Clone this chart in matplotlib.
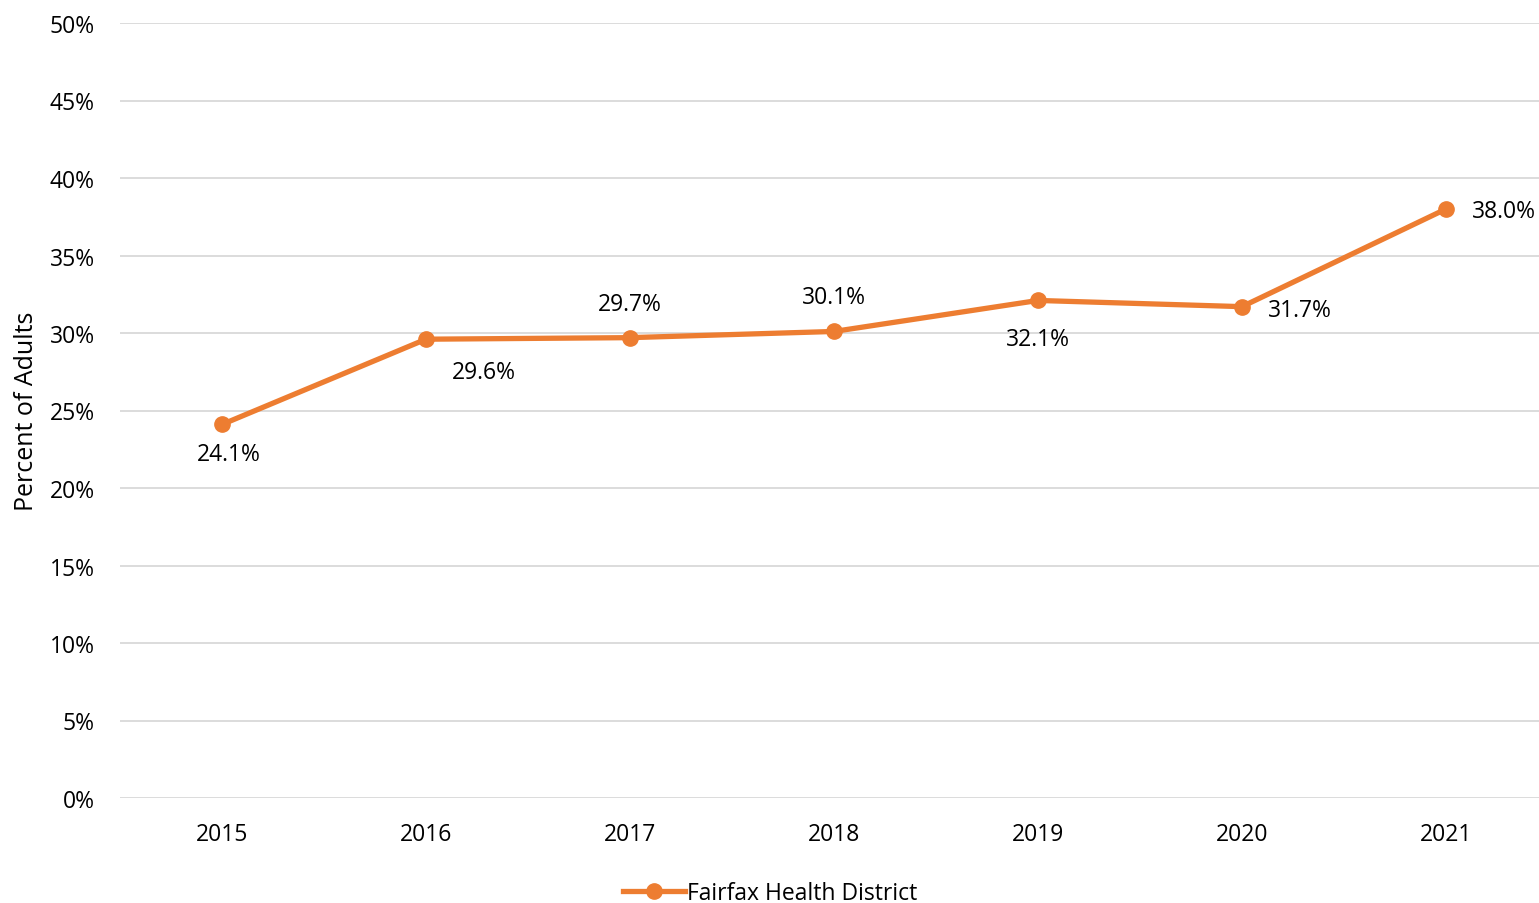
import matplotlib.pyplot as plt
from matplotlib.ticker import FuncFormatter

years = ["2015", "2016", "2017", "2018", "2019", "2020", "2021"]
pct = [24.1, 29.6, 29.7, 30.1, 32.1, 31.7, 38.0]
series_name = "Fairfax Health District"
# label offsets in pixels (dx, dy) for each point
label_offsets = [(7, -30), (58, -33), (0, 34), (0, 34), (0, -39), (58, -3), (58, -2)]

plt.rcParams["font.family"] = ["Open Sans", "DejaVu Sans"]
orange = "#ED7D31"

fig = plt.figure(figsize=(15.39, 9.04), dpi=100)
ax = fig.add_axes([120 / 1539, 1 - 799 / 904, 1419 / 1539, 775 / 904])

x = list(range(len(years)))
ax.plot(x, pct, color=orange, linewidth=3.8, marker="o", markersize=11,
        label=series_name, zorder=3)

for xi, v, (dx, dy) in zip(x, pct, label_offsets):
    ax.annotate(f"{v:.1f}%", (xi, v), xytext=(dx, dy), textcoords="offset pixels",
                ha="center", va="center", fontsize=16.5, color="#000000")

ax.set_ylim(0, 50)
ax.set_yticks(range(0, 51, 5))
ax.yaxis.set_major_formatter(FuncFormatter(lambda v, p: f"{v:.0f}%"))
ax.set_xlim(-0.5, (1539 - 222) / 204)
ax.set_xticks(x)
ax.set_xticklabels(years)

ax.grid(axis="y", color="#D9D9D9", linewidth=1.3)
ax.set_axisbelow(True)
for s in ax.spines.values():
    s.set_visible(False)
ax.tick_params(axis="both", length=0, labelsize=16.5)
ax.tick_params(axis="y", pad=18)
ax.tick_params(axis="x", pad=17.5)

ax.set_ylabel("Percent of Adults", fontsize=18)
ax.yaxis.set_label_coords(-0.057, 0.5)

fig.legend(loc="center", bbox_to_anchor=(770 / 1539, 1 - 894 / 904), frameon=False,
           fontsize=16.5, handlelength=2.7, handletextpad=0.1)

fig.savefig("out.png", dpi=100)
